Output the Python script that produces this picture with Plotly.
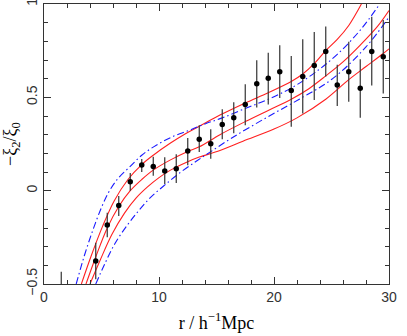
import plotly.graph_objects as go

# measured ratio -xi2/xi0 with error bars
r_bin = [1.5, 4.5, 5.5, 6.5, 7.5, 8.5, 9.5, 10.5, 11.5, 12.5, 13.5, 14.5, 15.5, 16.5,
         17.5, 18.5, 19.5, 20.5, 21.5, 22.5, 23.5, 24.5, 25.5, 26.5, 27.5, 28.5, 29.5]
ratio = [-0.62, -0.377, -0.184, -0.080, 0.048, 0.137, 0.130, 0.105, 0.118, 0.212, 0.275,
         0.252, 0.355, 0.391, 0.462, 0.573, 0.602, 0.637, 0.536, 0.611, 0.670, 0.746,
         0.566, 0.637, 0.548, 0.746, 0.718]
err_up = [0.186, 0.098, 0.066, 0.051, 0.047, 0.033, 0.052, 0.074, 0.077, 0.070, 0.075,
          0.077, 0.081, 0.082, 0.108, 0.125, 0.137, 0.142, 0.185, 0.200, 0.180, 0.134,
          0.109, 0.161, 0.156, 0.186, 0.196]
err_dn = [0.2, 0.098, 0.066, 0.056, 0.048, 0.037, 0.050, 0.069, 0.077, 0.076, 0.068,
          0.081, 0.080, 0.084, 0.112, 0.128, 0.140, 0.141, 0.193, 0.197, 0.184, 0.135,
          0.112, 0.160, 0.157, 0.182, 0.197]

# model curves (red solid)
r_up = [3.25, 4.1, 5.1, 6.1, 7.3, 8.5, 9.5, 11.0, 12.3, 13.5, 15.3, 17.5, 19.5, 21.5,
        22.5, 23.5, 24.5, 25.5, 26.5, 27.6]
m_up = [-0.5, -0.35, -0.19, -0.055, 0.06, 0.14, 0.19, 0.255, 0.305, 0.345, 0.405, 0.47,
        0.525, 0.585, 0.625, 0.68, 0.75, 0.81, 0.885, 1.0]
r_mid = [3.65, 4.5, 5.5, 6.5, 7.5, 8.5, 9.5, 11.0, 12.5, 13.5, 15.3, 17.5, 19.5, 21.5,
         23.0, 24.5, 26.0, 27.5, 29.0, 30.0]
m_mid = [-0.5, -0.355, -0.2, -0.085, 0.0, 0.06, 0.11, 0.165, 0.21, 0.235, 0.30, 0.37,
         0.43, 0.49, 0.545, 0.615, 0.69, 0.78, 0.88, 0.965]
r_lo = [4.0, 4.9, 5.9, 7.0, 8.0, 9.0, 10.0, 11.0, 12.5, 13.5, 15.3, 17.3, 20.0, 22.0,
        24.5, 26.5, 28.0, 29.5, 30.0]
m_lo = [-0.5, -0.37, -0.235, -0.12, -0.04, 0.02, 0.07, 0.11, 0.155, 0.18, 0.215, 0.265,
        0.33, 0.39, 0.49, 0.595, 0.665, 0.735, 0.76]

# alternative model (blue dash-dot)
r_bu = [2.8, 3.5, 4.2, 5.0, 5.7, 6.5, 7.5, 8.5, 9.8, 11.2, 12.7, 14.1, 15.5, 17.5, 19.5,
        21.5, 23.5, 25.5, 27.5, 29.2]
m_bu = [-0.5, -0.35, -0.22, -0.09, 0.0, 0.07, 0.13, 0.19, 0.245, 0.29, 0.325, 0.36, 0.39,
        0.44, 0.49, 0.55, 0.63, 0.73, 0.86, 1.0]
r_bl = [4.5, 5.3, 6.2, 7.3, 8.2, 9.2, 10.4, 11.8, 13.3, 14.4, 16.4, 19.3, 22.2, 25.1,
        28.0, 30.0]
m_bl = [-0.5, -0.39, -0.28, -0.18, -0.11, -0.04, 0.025, 0.095, 0.16, 0.205, 0.285, 0.39,
        0.49, 0.6, 0.77, 0.93]

fig = go.Figure()
for xs, ys in [(r_up, m_up), (r_mid, m_mid), (r_lo, m_lo)]:
    fig.add_trace(go.Scatter(x=xs, y=ys, mode="lines", line_shape="spline",
                             line=dict(color="#ff2020", width=1.1), showlegend=False))
for xs, ys in [(r_bu, m_bu), (r_bl, m_bl)]:
    fig.add_trace(go.Scatter(x=xs, y=ys, mode="lines", line_shape="spline",
                             line=dict(color="#1a1aff", width=1.1, dash="7px,3px,1.5px,3px"),
                             showlegend=False))
fig.add_trace(go.Scatter(x=r_bin, y=ratio, mode="markers",
                         marker=dict(color="black", size=5.5),
                         error_y=dict(type="data", symmetric=False, array=err_up,
                                      arrayminus=err_dn, color="#333333", thickness=1.2, width=0),
                         showlegend=False))

axis_font = dict(family="Liberation Sans, Arial, sans-serif", size=14, color="#333333")
fig.update_layout(
    width=407, height=336,
    margin=dict(l=44, r=17.5, t=4, b=52),
    paper_bgcolor="white", plot_bgcolor="white",
    font=dict(family="Liberation Serif, Times New Roman, serif", size=15, color="black"),
)
fig.update_xaxes(range=[0, 30], tickvals=[0, 10, 20, 30], ticks="inside", ticklen=7,
                 tickcolor="#333333", tickwidth=1, showgrid=False, zeroline=False,
                 showline=True, linecolor="#333333", linewidth=1, mirror="allticks",
                 tickfont=axis_font, automargin=False, ticklabeloverflow="allow",
                 minor=dict(dtick=2, ticks="inside", ticklen=4,
                            tickcolor="#333333", showgrid=False),
                 title=dict(text="r / h<sup>\u22121</sup>Mpc", standoff=12))
fig.update_yaxes(range=[-0.5, 1], tickvals=[-0.5, 0, 0.5, 1],
                 ticktext=["\u22120.5", "0", "0.5", "1"], tickangle=-90,
                 ticks="inside", ticklen=7, tickcolor="#333333", tickwidth=1,
                 showgrid=False, zeroline=False, showline=True, linecolor="#333333",
                 linewidth=1, mirror="allticks", tickfont=axis_font, automargin=False,
                 ticklabeloverflow="allow",
                 minor=dict(dtick=0.1, ticks="inside", ticklen=4, tickcolor="#333333",
                            showgrid=False),
                 title=dict(text="\u2212\u03be<sub>2</sub>/\u03be<sub>0</sub>", standoff=6))

fig.write_html("out.html", config={"displayModeBar": False},
               post_script="document.body.style.margin='0';")
